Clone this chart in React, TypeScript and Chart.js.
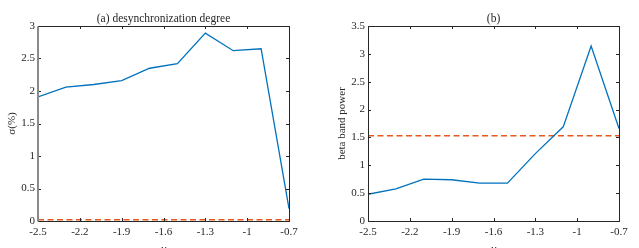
import React, { useEffect, useRef } from "react";
import { Chart, registerables } from "chart.js";

Chart.register(...registerables);

const gammaValues = [-2.5, -2.3, -2.1, -1.9, -1.7, -1.5, -1.3, -1.1, -0.9, -0.7];
const xTickValues = [-2.5, -2.2, -1.9, -1.6, -1.3, -1, -0.7];
const desyncValues = [1.91, 2.06, 2.1, 2.16, 2.35, 2.42, 2.89, 2.62, 2.65, 0.19];
const desyncThreshold = 0.02;
const desyncTicks = [0, 0.5, 1, 1.5, 2, 2.5, 3];
const betaValues = [0.48, 0.575, 0.75, 0.74, 0.68, 0.68, 1.21, 1.69, 3.14, 1.66];
const betaThreshold = 1.53;
const betaTicks = [0, 0.5, 1, 1.5, 2, 2.5, 3, 3.5];

const FONT = "'Liberation Serif', 'Times New Roman', serif";
const INK = "#262626";
const BLUE = "#0072BD";
const RED = "#E8581E";

const boxPlugin = {
  id: "matlabBox",
  afterDraw(chart: any, _args: any, opts: any) {
    const { ctx, chartArea: a, scales } = chart;
    ctx.save();
    ctx.strokeStyle = INK;
    ctx.lineWidth = 1;
    const tl = 3;
    ctx.beginPath();
    scales.x.ticks.forEach((t: any) => {
      const px = Math.round(scales.x.getPixelForValue(t.value)) + 0.5;
      ctx.moveTo(px, a.bottom);
      ctx.lineTo(px, a.bottom - tl);
      ctx.moveTo(px, a.top);
      ctx.lineTo(px, a.top + tl);
    });
    scales.y.ticks.forEach((t: any) => {
      const py = Math.round(scales.y.getPixelForValue(t.value)) + 0.5;
      ctx.moveTo(a.left, py);
      ctx.lineTo(a.left + tl, py);
      ctx.moveTo(a.right, py);
      ctx.lineTo(a.right - tl, py);
    });
    ctx.stroke();
    const l = Math.round(a.left) + 0.5;
    const r = Math.round(a.right) + 0.5;
    const t = Math.round(a.top) + 0.5;
    const b = Math.round(a.bottom) + 0.5;
    ctx.strokeRect(l, t, r - l, b - t);
    if (opts && opts.grayLeft) {
      ctx.strokeStyle = "#8a8a8a";
      ctx.lineWidth = 2;
      ctx.beginPath();
      ctx.moveTo(l - 0.5, t);
      ctx.lineTo(l - 0.5, b);
      ctx.stroke();
    }
    ctx.fillStyle = INK;
    ctx.font = `italic 12px ${FONT}`;
    ctx.textAlign = "center";
    ctx.textBaseline = "top";
    ctx.fillText("γ", (a.left + a.right) / 2, 244);
    ctx.restore();
  },
};

function makeConfig(
  title: string,
  yLabel: string,
  values: number[],
  threshold: number,
  yTicks: number[],
  yWidth: number,
  padRight: number,
  yTitlePad: number,
  grayLeft: boolean
): any {
  const yMax = yTicks[yTicks.length - 1];
  return {
    type: "line",
    data: {
      datasets: [
        {
          data: gammaValues.map((g, i) => ({ x: g, y: values[i] })),
          borderColor: BLUE,
          borderWidth: 1.3,
          pointRadius: 0,
          tension: 0,
          fill: false,
        },
        {
          data: [
            { x: gammaValues[0], y: threshold },
            { x: gammaValues[gammaValues.length - 1], y: threshold },
          ],
          borderColor: RED,
          borderWidth: 1.5,
          borderDash: [6, 3.5],
          pointRadius: 0,
          fill: false,
        },
      ],
    },
    options: {
      animation: false,
      responsive: true,
      maintainAspectRatio: false,
      layout: { padding: { left: 0, right: padRight, top: 0, bottom: 0 } },
      plugins: {
        legend: { display: false },
        tooltip: { enabled: false },
        title: {
          display: true,
          text: title,
          fullSize: false,
          color: INK,
          font: { family: FONT, size: 11.5, weight: "normal", lineHeight: 1.2 },
          padding: { top: 12, bottom: 0.2 },
        },
        matlabBox: { grayLeft },
      },
      scales: {
        x: {
          type: "linear",
          min: gammaValues[0],
          max: gammaValues[gammaValues.length - 1],
          afterBuildTicks: (s: any) => {
            s.ticks = xTickValues.map((v) => ({ value: v }));
          },
          afterFit: (s: any) => {
            s.height = 27;
          },
          grid: { display: false, drawTicks: false },
          border: { display: false },
          ticks: {
            autoSkip: false,
            maxRotation: 0,
            padding: 5,
            color: INK,
            font: { family: FONT, size: 11 },
            callback: (v: any) => String(Math.round(Number(v) * 10) / 10),
          },
        },
        y: {
          type: "linear",
          min: 0,
          max: yMax,
          afterBuildTicks: (s: any) => {
            s.ticks = yTicks.map((v) => ({ value: v }));
          },
          afterFit: (s: any) => {
            s.width = yWidth;
          },
          grid: { display: false, drawTicks: false },
          border: { display: false },
          title: {
            display: true,
            text: yLabel,
            color: INK,
            font: { family: FONT, size: 11, lineHeight: 1.2 },
            padding: { top: yTitlePad, bottom: 0 },
          },
          ticks: {
            autoSkip: false,
            padding: 3,
            color: INK,
            font: { family: FONT, size: 11 },
            callback: (v: any) => String(Math.round(Number(v) * 10) / 10),
          },
        },
      },
    },
    plugins: [boxPlugin],
  };
}

function ChartBox(props: { config: any; left: number; width: number }) {
  const ref = useRef<HTMLCanvasElement | null>(null);
  useEffect(() => {
    if (!ref.current) return;
    const chart = new Chart(ref.current, props.config);
    return () => chart.destroy();
  }, []);
  return (
    <div
      style={{
        position: "absolute",
        left: props.left,
        top: 0,
        width: props.width,
        height: 248,
      }}
    >
      <canvas ref={ref} />
    </div>
  );
}

export default function App() {
  const cfgA = makeConfig(
    "(a) desynchronization degree",
    "σ(%)",
    desyncValues,
    desyncThreshold,
    desyncTicks,
    38,
    31,
    5.4,
    true
  );
  const cfgB = makeConfig(
    "(b)",
    "beta band power",
    betaValues,
    betaThreshold,
    betaTicks,
    48,
    20,
    16,
    false
  );
  return (
    <div
      style={{
        position: "fixed",
        left: 0,
        top: 0,
        width: 639,
        height: 248,
        background: "#ffffff",
        overflow: "hidden",
      }}
    >
      <ChartBox config={cfgA} left={0} width={320} />
      <ChartBox config={cfgB} left={320} width={319} />
    </div>
  );
}
